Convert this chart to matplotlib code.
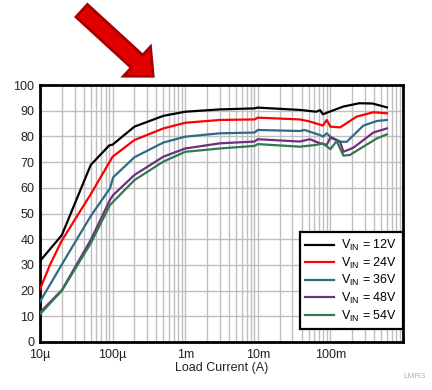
import numpy as np
import matplotlib.pyplot as plt
from matplotlib.patches import FancyArrow
from matplotlib.ticker import FixedLocator, FixedFormatter, LogLocator, NullFormatter

plt.rcParams['font.family'] = ['Liberation Sans', 'DejaVu Sans']

# efficiency curves (load current in A, efficiency in %)
i_12 = [1e-5, 2e-5, 5e-5, 9e-5, 1e-4, 2e-4, 5e-4, 1e-3, 3e-3, 9e-3, 1e-2,
        3.8e-2, 6.4e-2, 7.2e-2, 7.9e-2, 8.9e-2, 0.15, 0.25, 0.38, 0.6]
eff_12 = [31.5, 41.6, 68.9, 76.5, 76.8, 83.8, 88.0, 89.6, 90.5, 90.9, 91.2,
          90.3, 89.6, 90.2, 88.6, 89.2, 91.6, 92.9, 92.8, 91.3]

i_24 = [1e-5, 1.37e-5, 2e-5, 5e-5, 1e-4, 2e-4, 5e-4, 1e-3, 3e-3, 9e-3, 1e-2,
        3.8e-2, 5.2e-2, 7.9e-2, 8.9e-2, 0.1, 0.136, 0.23, 0.39, 0.6]
eff_24 = [20.5, 30.0, 39.5, 57.5, 72.1, 78.6, 83.1, 85.3, 86.4, 86.6, 87.3,
          86.6, 85.8, 84.2, 86.4, 83.8, 83.5, 87.7, 89.4, 89.0]

i_36 = [1e-5, 2.1e-5, 5e-5, 9.2e-5, 1.02e-4, 2e-4, 5e-4, 1e-3, 3e-3, 9e-3, 1e-2,
        3.8e-2, 4.4e-2, 7.2e-2, 7.9e-2, 8.9e-2, 0.1, 0.136, 0.168, 0.284, 0.436, 0.6]
eff_36 = [15.7, 31.2, 49.0, 59.8, 64.1, 71.9, 77.6, 79.9, 81.2, 81.5, 82.5,
          82.1, 82.5, 80.5, 79.9, 81.2, 79.9, 77.9, 77.9, 84.2, 86.0, 86.4]

i_48 = [1e-5, 2e-5, 5e-5, 9.2e-5, 1.02e-4, 2e-4, 5e-4, 1e-3, 3e-3, 9e-3, 1e-2,
        3.8e-2, 5.2e-2, 7.2e-2, 8.9e-2, 0.1, 0.136, 0.151, 0.207, 0.39, 0.6]
eff_48 = [11.5, 20.2, 39.7, 55.3, 57.2, 65.0, 72.1, 75.3, 77.3, 78.0, 78.9,
          78.0, 78.9, 77.3, 76.7, 79.5, 78.0, 74.0, 75.6, 81.5, 83.1]

i_54 = [1e-5, 2e-5, 5e-5, 9.2e-5, 2e-4, 5e-4, 1e-3, 3e-3, 9e-3, 1e-2,
        3.8e-2, 6.4e-2, 7.9e-2, 0.1, 0.122, 0.151, 0.186, 0.284, 0.436, 0.6]
eff_54 = [10.8, 20.0, 38.4, 53.3, 63.0, 70.2, 74.0, 75.3, 76.3, 77.0,
          76.0, 76.7, 77.3, 75.0, 78.2, 72.5, 72.8, 76.0, 79.2, 80.8]

labels = ['V$_{\\mathregular{IN}}$ = 12V', 'V$_{\\mathregular{IN}}$ = 24V',
          'V$_{\\mathregular{IN}}$ = 36V', 'V$_{\\mathregular{IN}}$ = 48V',
          'V$_{\\mathregular{IN}}$ = 54V']
colors = ['#000000', '#ff0000', '#2e6b84', '#6e2f7e', '#2f7a4f']

x_ticks = [1e-5, 1e-4, 1e-3, 1e-2, 1e-1]
x_ticklabels = ['10\u00b5', '100\u00b5', '1m', '10m', '100m']

fig = plt.figure(figsize=(4.32, 3.9), dpi=100)
ax = fig.add_axes([40 / 432, 48 / 390, 363 / 432, 257 / 390])

series = [(i_12, eff_12), (i_24, eff_24), (i_36, eff_36), (i_48, eff_48), (i_54, eff_54)]
for (x, y), c, lab in zip(series, colors, labels):
    ax.plot(x, y, color=c, lw=1.6, label=lab, zorder=3)

ax.set_xscale('log')
ax.set_xlim(1e-5, 1)
ax.set_ylim(0, 100)
ax.xaxis.set_major_locator(FixedLocator(x_ticks))
ax.xaxis.set_major_formatter(FixedFormatter(x_ticklabels))
ax.xaxis.set_minor_locator(LogLocator(base=10, subs=np.arange(2, 10), numticks=20))
ax.xaxis.set_minor_formatter(NullFormatter())
ax.set_yticks(np.arange(0, 101, 10))

ax.grid(True, which='both', color='#bfbfbf', lw=1.0, zorder=0)
ax.tick_params(which='both', length=0, labelsize=9, colors='#222222')
ax.tick_params(axis='y', pad=4)
ax.tick_params(axis='x', pad=5)
for s in ax.spines.values():
    s.set_linewidth(2)
    s.set_color('black')

ax.set_xlabel('Load Current (A)', fontsize=9, labelpad=1, color='#222222')

leg = ax.legend(loc='lower right', bbox_to_anchor=(1.0, 0.05), fontsize=9,
                fancybox=False, framealpha=1, edgecolor='black',
                handlelength=2.3, labelspacing=0.2, borderpad=0.45,
                handletextpad=0.6, borderaxespad=0)
leg.get_frame().set_linewidth(1.6)

fig.text(0.985, 0.025, 'LMR3', fontsize=6, color='#b0b0b0', ha='right', va='bottom')

# red arrow pointing at the chart
arrow = FancyArrow(0.817, 3.793, 0.553, -0.507, width=0.17, head_width=0.40,
                   head_length=0.22, length_includes_head=False,
                   facecolor='#e00000', edgecolor='#a80000', lw=2,
                   transform=fig.dpi_scale_trans)
fig.add_artist(arrow)

fig.savefig('out.png', dpi=100)
